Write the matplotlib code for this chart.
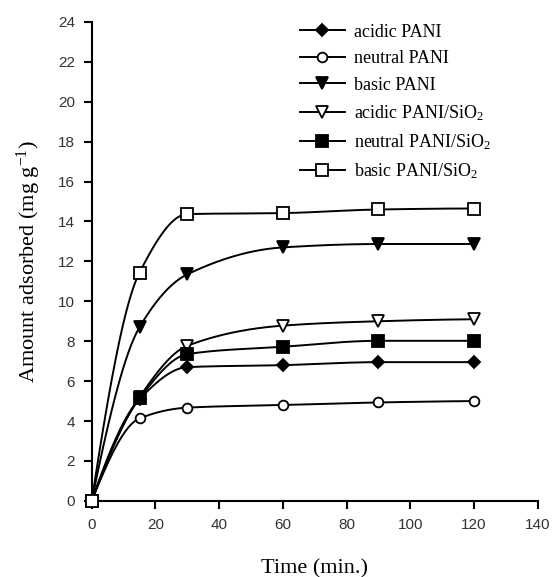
import numpy as np
import matplotlib
matplotlib.use("Agg")
import matplotlib.pyplot as plt
from matplotlib.lines import Line2D

plt.rcParams["mathtext.fontset"] = "custom"
plt.rcParams["mathtext.rm"] = "Liberation Serif"
plt.rcParams["mathtext.it"] = "Liberation Serif:italic"

time_min = [0, 15, 30, 60, 90, 120]
acidic_pani = [0, 5.1, 6.7, 6.8, 6.95, 6.95]
neutral_pani = [0, 4.13, 4.67, 4.8, 4.93, 5.0]
basic_pani = [0, 8.7, 11.35, 12.7, 12.87, 12.87]
acidic_pani_sio2 = [0, 5.2, 7.77, 8.78, 9.0, 9.1]
neutral_pani_sio2 = [0, 5.13, 7.35, 7.72, 8.02, 8.02]
basic_pani_sio2 = [0, 11.44, 14.37, 14.42, 14.6, 14.65]

labels = ["acidic PANI", "neutral PANI", "basic PANI",
          "acidic PANI/SiO$_2$", "neutral PANI/SiO$_2$", "basic PANI/SiO$_2$"]
series = [acidic_pani, neutral_pani, basic_pani,
          acidic_pani_sio2, neutral_pani_sio2, basic_pani_sio2]
markers = ["D", "o", "v", "v", "s", "s"]
fills = ["black", "white", "black", "white", "black", "white"]
msizes = [6, 7, 8, 8, 8, 8]


def pchip(x, y, xn):
    x = np.asarray(x, float); y = np.asarray(y, float)
    h = np.diff(x); d = np.diff(y) / h
    n = len(x); m = np.zeros(n)
    for k in range(1, n - 1):
        if d[k - 1] * d[k] > 0:
            w1 = 2 * h[k] + h[k - 1]; w2 = h[k] + 2 * h[k - 1]
            m[k] = (w1 + w2) / (w1 / d[k - 1] + w2 / d[k])
    m[0] = ((2 * h[0] + h[1]) * d[0] - h[0] * d[1]) / (h[0] + h[1])
    if np.sign(m[0]) != np.sign(d[0]):
        m[0] = 0
    m[-1] = ((2 * h[-1] + h[-2]) * d[-1] - h[-1] * d[-2]) / (h[-1] + h[-2])
    if np.sign(m[-1]) != np.sign(d[-1]):
        m[-1] = 0
    idx = np.clip(np.searchsorted(x, xn) - 1, 0, n - 2)
    t = (xn - x[idx]) / h[idx]
    h00 = 2 * t**3 - 3 * t**2 + 1; h10 = t**3 - 2 * t**2 + t
    h01 = -2 * t**3 + 3 * t**2; h11 = t**3 - t**2
    return h00 * y[idx] + h10 * h[idx] * m[idx] + h01 * y[idx + 1] + h11 * h[idx] * m[idx + 1]


fig = plt.figure(figsize=(5.56, 5.77), dpi=100)
ax = fig.add_axes([0.165, 0.132, 0.802, 0.830])

xs = np.linspace(0, 120, 400)
handles = []
for ys, lab, mk, fc, ms in zip(series, labels, markers, fills, msizes):
    ax.plot(xs, pchip(time_min, ys, xs), color="black", lw=1.4, zorder=2, clip_on=False)
    ax.plot(time_min, ys, linestyle="none", marker=mk, markersize=ms,
            markerfacecolor=fc, markeredgecolor="black", markeredgewidth=1.3,
            zorder=3, clip_on=False)
    handles.append(Line2D([], [], color="black", lw=1.4, marker=mk, markersize=ms,
                          markerfacecolor=fc, markeredgecolor="black",
                          markeredgewidth=1.3, label=lab))

ax.set_xlim(0, 140)
ax.set_ylim(0, 24)
ax.set_xticks(np.arange(0, 141, 20))
ax.set_yticks(np.arange(0, 25, 2))
for s in ["top", "right"]:
    ax.spines[s].set_visible(False)
for s in ["left", "bottom"]:
    ax.spines[s].set_linewidth(1.5)
ax.tick_params(direction="out", length=6, width=1.5, labelsize=11, pad=6)
for t in ax.get_xticklabels() + ax.get_yticklabels():
    t.set_fontfamily("Liberation Sans")
    t.set_color("#333333")

ax.set_xlabel("Time (min.)", fontfamily="Liberation Serif", fontsize=16, labelpad=20)
ax.set_ylabel("Amount adsorbed (mg g$^{-1}$)", fontfamily="Liberation Serif",
              fontsize=16, labelpad=11)

leg = ax.legend(handles=handles, loc="upper left", bbox_to_anchor=(0.43, 1.03),
                frameon=False, prop={"family": "Liberation Serif", "size": 13},
                handlelength=2.5, handletextpad=0.5, labelspacing=0.52)
fig.savefig("out.png", dpi=100)
